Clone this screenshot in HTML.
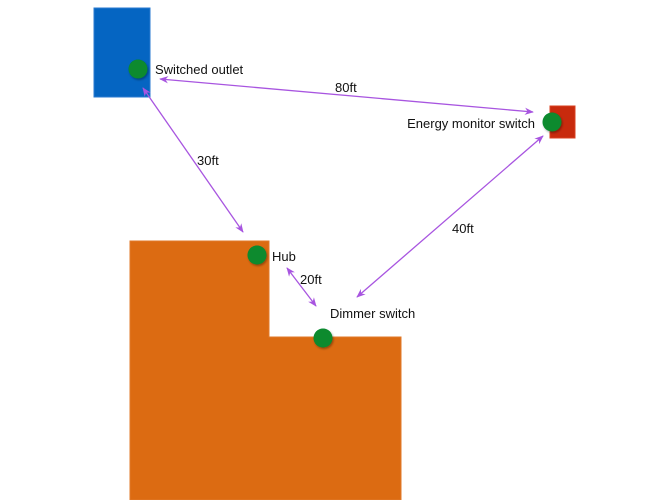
<!DOCTYPE html>
<html><head><meta charset="utf-8"><style>
html,body{margin:0;padding:0;background:#fff;width:666px;height:500px;overflow:hidden}
text{font-family:"Liberation Sans",sans-serif;font-size:13px;fill:#111}
</style></head><body>
<svg width="666" height="500" viewBox="0 0 666 500" xmlns="http://www.w3.org/2000/svg">
<defs>
<marker id="a" viewBox="0 0 10 10" refX="9" refY="5" markerWidth="7" markerHeight="7" orient="auto-start-reverse">
<path d="M0,1 L10,5 L0,9 L3,5 z" fill="#a855e0"/></marker>
<filter id="s" x="-50%" y="-50%" width="200%" height="200%"><feDropShadow dx="1" dy="1.5" stdDeviation="1" flood-opacity="0.35"/></filter>
</defs>
<rect x="94" y="8" width="56" height="89" fill="#0565c2" stroke="#2a7ad0" stroke-width="1"/>
<rect x="550" y="106" width="25" height="32" fill="#c82a0d" stroke="#d84020"/>
<path d="M130,241 H269 V337 H401 V500 H130 Z" fill="#dc6b12" stroke="#e07a2a"/>
<g stroke="#a855e0" stroke-width="1.3" fill="none" marker-start="url(#a)" marker-end="url(#a)">
<line x1="160" y1="79" x2="533" y2="112"/>
<line x1="143" y1="88" x2="243" y2="232"/>
<line x1="543" y1="136" x2="357" y2="297"/>
<line x1="287" y1="268" x2="316" y2="306"/>
</g>
<g fill="#078a2e" filter="url(#s)">
<circle cx="138" cy="69" r="9.5"/>
<circle cx="552" cy="122" r="9.5"/>
<circle cx="257" cy="255" r="9.5"/>
<circle cx="323" cy="338" r="9.5"/>
</g>
<text x="155" y="74">Switched outlet</text>
<text x="335" y="92">80ft</text>
<text x="535" y="128" text-anchor="end">Energy monitor switch</text>
<text x="197" y="165">30ft</text>
<text x="452" y="233">40ft</text>
<text x="272" y="261">Hub</text>
<text x="300" y="284">20ft</text>
<text x="330" y="318">Dimmer switch</text>
</svg>
</body></html>
